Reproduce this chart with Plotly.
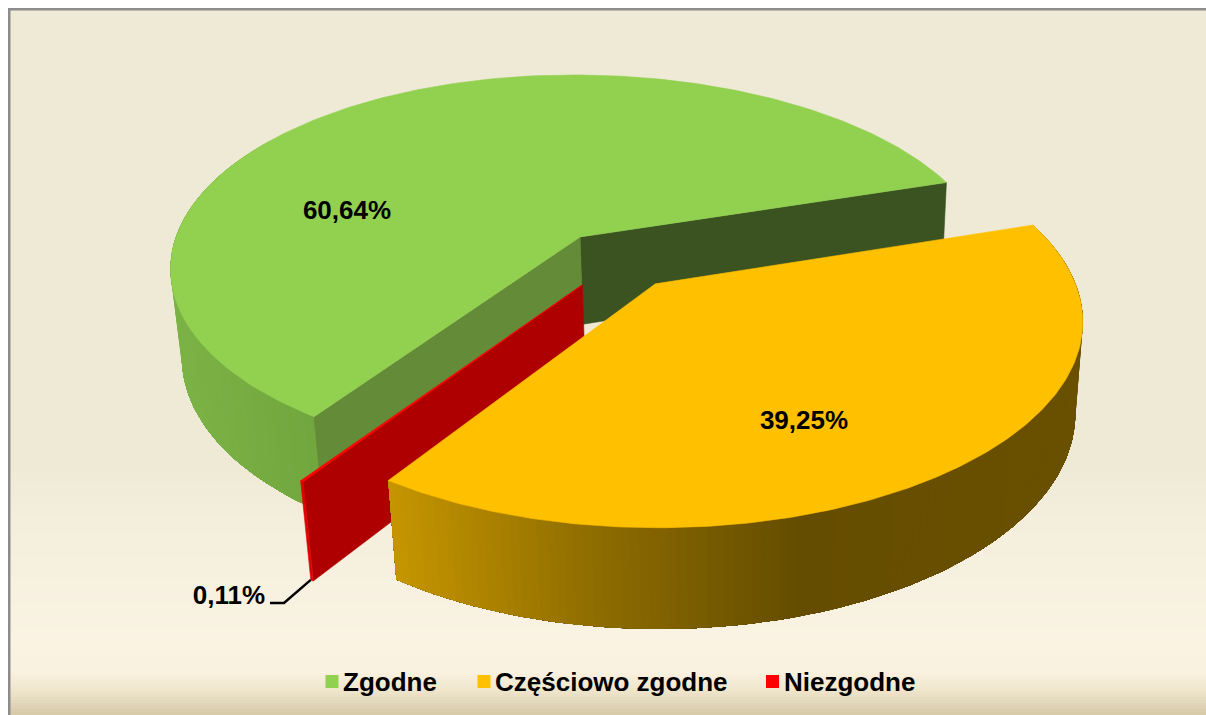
import math
import plotly.graph_objects as go

# ---- data ----
categories = ["Zgodne", "Częściowo zgodne", "Niezgodne"]
values = [60.64, 39.25, 0.11]
value_labels = ["60,64%", "39,25%", "0,11%"]

# ---- style / view ----
top_colors = ["#92D050", "#FFC000", "#FF0000"]
face_colors = ["#648B38", None, "#AE0000"]
back_color = "#3B5321"
legend_colors = ["#92D050", "#FFC000", "#FF0000"]
FIRST_ANGLE = 214.0
EXPLODE = 0.15
OX, OY = 580.0, 237.0
A, B, K, H, M, VX, SKEW = 404.0, 188.0, 0.16, 89.0, 0.02, 150.0, 7.0
W, HT = 1206, 715
FONT = dict(family="Liberation Sans", size=26, color="#000000", weight="bold")


def unit(t):
    r = math.radians(t)
    return math.sin(r), math.cos(r)


def project(x, y, z=0.0):
    w0 = 1 + K * y
    w = w0 + M * z
    sx0 = (A * x - SKEW * y * y) / w0
    sx = VX + (sx0 - VX) * w0 / w
    sy = (-B * y + H * z) / w
    return OX + sx, OY + sy


def lerp_color(stops, x):
    if x <= stops[0][0]:
        return stops[0][1]
    for (x0, c0), (x1, c1) in zip(stops, stops[1:]):
        if x <= x1:
            f = (x - x0) / (x1 - x0)
            a = [int(c0[i:i + 2], 16) for i in (1, 3, 5)]
            b = [int(c1[i:i + 2], 16) for i in (1, 3, 5)]
            return "#%02X%02X%02X" % tuple(round(p + (q - p) * f) for p, q in zip(a, b))
    return stops[-1][1]


fig = go.Figure()


def poly(pts, color, name=None, lw=0.6):
    fig.add_trace(go.Scatter(
        x=[p[0] for p in pts] + [pts[0][0]], y=[p[1] for p in pts] + [pts[0][1]],
        mode="lines", fill="toself", fillcolor=color,
        line=dict(color=color, width=lw), hoverinfo="skip", showlegend=False, name=name))


# slice angles from the values
total = sum(values)
spans = []
t = FIRST_ANGLE
for v in values:
    spans.append((t, t + v / total * 360))
    t += v / total * 360

# exploded apexes in pie-plane coordinates (the first slice's apex is the origin)
dirs = [unit((a + b) / 2) for a, b in spans]
cx, cy = -EXPLODE * dirs[0][0], -EXPLODE * dirs[0][1]
apex = [(cx + EXPLODE * d[0], cy + EXPLODE * d[1]) for d in dirs]


def rim(i, t, z=0.0):
    u = unit(t)
    return project(apex[i][0] + u[0], apex[i][1] + u[1], z)


def arc(i, t0, t1, n=120, z=0.0):
    return [rim(i, t0 + (t1 - t0) * j / n, z) for j in range(n + 1)]


def ap(i, z=0.0):
    return project(apex[i][0], apex[i][1], z)


def rim_wall(i, t0, t1, stops, n=90):
    # each strip runs to the far end of the wall, so later strips overpaint it with no seams
    for j in range(n):
        a = t0 + (t1 - t0) * j / n
        b = t0 + (t1 - t0) * (j + 1) / n
        top = arc(i, a, t1, max(2, n - j))
        bot = arc(i, a, t1, max(2, n - j), 1)
        mid = (rim(i, a)[0] + rim(i, b)[0]) / 2
        poly(top + bot[::-1], lerp_color(stops, mid), lw=0)


# green slice
g0, g1 = spans[0]
poly([ap(0), rim(0, g1), rim(0, g1, 1), ap(0, 1)], back_color)
rim_wall(0, g0 + 90, g0, [(170, "#7CB346"), (310, "#72A63E")], 60)
poly([ap(0), rim(0, g0), rim(0, g0, 1), ap(0, 1)], face_colors[0])
poly([ap(0)] + arc(0, g0, g1, 200), top_colors[0], categories[0])

# red slice
r0, r1 = spans[2]
poly([ap(2), rim(2, r0), rim(2, r0, 1), ap(2, 1)], face_colors[2])
poly([rim(2, r0), rim(2, r1), rim(2, r1, 1), rim(2, r0, 1)], "#E00000")
poly([ap(2), rim(2, r0), rim(2, r1)], top_colors[2], categories[2])

# yellow slice
y0, y1 = spans[1]
rim_wall(1, y0, y1, [(390, "#C69500"), (600, "#8C6B00"), (800, "#654D00"), (1100, "#6A5000")], 130)
poly([ap(1)] + arc(1, y0, y1, 200), top_colors[1], categories[1])

# value labels
label_pos = [(347, 212), (804, 422), (229, 597)]
for txt, (lx, ly) in zip(value_labels, label_pos):
    fig.add_trace(go.Scatter(x=[lx], y=[ly], mode="text", text=[txt], showlegend=False,
                             hoverinfo="skip", textfont=FONT))

# leader line to the smallest slice
end = rim(2, r1, 1)
fig.add_trace(go.Scatter(x=[270, 284, end[0]], y=[603, 603, end[1]], mode="lines",
                         line=dict(color="#000000", width=2.5), showlegend=False, hoverinfo="skip"))

# legend row
legend_x = [332, 484, 772.5]
legend_text_x = [343, 495, 784]
for name, col, lx, tx in zip(categories, legend_colors, legend_x, legend_text_x):
    fig.add_trace(go.Scatter(x=[lx], y=[681.5], mode="markers", name=name, showlegend=False,
                             hoverinfo="skip", marker=dict(symbol="square", size=13, color=col)))
    fig.add_trace(go.Scatter(x=[tx], y=[684], mode="text", text=[name], textposition="middle right",
                             showlegend=False, hoverinfo="skip", textfont=FONT))

# background
bg_stops = [(10, "#EFEAD5"), (465, "#EFEAD5"), (490, "#F1ECD9"), (520, "#F4EEDD"), (640, "#FAF3E3"),
            (672, "#F9F2E0"), (690, "#EFE6CD"), (715, "#D5C9A8")]
shapes = []
for yy in range(10, 715, 3):
    shapes.append(dict(type="rect", xref="x", yref="y", x0=10, x1=W, y0=yy, y1=yy + 3, layer="below",
                       line=dict(width=0), fillcolor=lerp_color(bg_stops, yy + 1.5)))
shapes.append(dict(type="rect", xref="x", yref="y", x0=8, x1=W, y0=8, y1=10.5, layer="below",
                   line=dict(width=0), fillcolor="#8C8C8C"))
shapes.append(dict(type="rect", xref="x", yref="y", x0=8, x1=10.5, y0=8, y1=HT, layer="below",
                   line=dict(width=0), fillcolor="#8C8C8C"))

fig.update_layout(
    width=W, height=HT, margin=dict(l=0, r=0, t=0, b=0), showlegend=False,
    paper_bgcolor="#FFFFFF", plot_bgcolor="rgba(0,0,0,0)", shapes=shapes,
    xaxis=dict(range=[0, W], visible=False, fixedrange=True),
    yaxis=dict(range=[HT, 0], visible=False, fixedrange=True),
)
fig.write_html("out.html", config=dict(displayModeBar=False),
               post_script="document.body.style.margin='0';document.body.style.overflow='hidden';")
